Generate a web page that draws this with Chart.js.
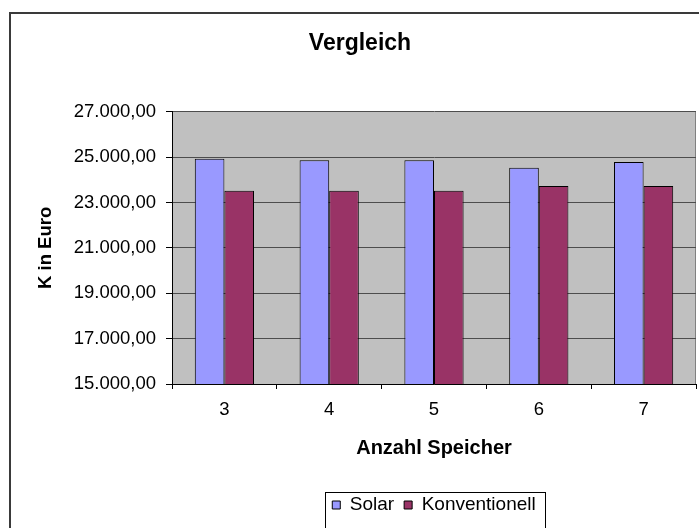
<!DOCTYPE html>
<html>
<head>
<meta charset="utf-8">
<title>Vergleich</title>
<script src="https://cdn.jsdelivr.net/npm/chart.js@4/dist/chart.umd.min.js"></script>
<style>
  html, body { margin: 0; padding: 0; background: #fff; overflow: hidden; }
  canvas { display: block; }
</style>
</head>
<body>
<canvas id="chart" width="699" height="528"></canvas>
<script>
// Kosten je Anzahl Speicher
const speicher = ['3', '4', '5', '6', '7'];
const solar = [24930, 24860, 24860, 24530, 24780];
const konventionell = [23520, 23520, 23520, 23730, 23730];

// y axis range
const yMin = 15000;
const yMax = 27000;
const yStep = 2000;

const FONT = "'Liberation Sans', Arial, sans-serif";

// 27000 -> "27.000,00"
function euro(v) {
  const parts = Number(v).toFixed(2).split('.');
  const int = parts[0].replace(/\B(?=(\d{3})+(?!\d))/g, '.');
  return int + ',' + parts[1];
}

// white page, outer frame and grey plot area
const background = {
  id: 'background',
  beforeDraw(chart) {
    const { ctx, chartArea: a } = chart;
    ctx.save();
    ctx.fillStyle = '#fff';
    ctx.fillRect(0, 0, chart.width, chart.height);
    ctx.strokeStyle = '#3a3a3a';
    ctx.lineWidth = 2;
    ctx.strokeRect(10, 13, chart.width + 20, chart.height + 20);
    ctx.fillStyle = '#c0c0c0';
    ctx.fillRect(a.left, a.top, a.right - a.left, a.bottom - a.top);
    ctx.strokeStyle = '#808080';
    ctx.lineWidth = 1;
    ctx.beginPath();
    ctx.moveTo(Math.round(a.right) - 0.5, a.top);
    ctx.lineTo(Math.round(a.right) - 0.5, a.bottom);
    ctx.stroke();
    ctx.restore();
  }
};

// box around the legend entries
const legendFrame = {
  id: 'legendFrame',
  afterDraw(chart) {
    const boxes = chart.legend && chart.legend.legendHitBoxes;
    if (!boxes || !boxes.length) return;
    const first = boxes[0];
    const last = boxes[boxes.length - 1];
    const x0 = Math.round(first.left - 7) + 0.5;
    const x1 = Math.round(last.left + last.width + 9) + 0.5;
    const y0 = Math.round(first.top - 4) + 0.5;
    const { ctx } = chart;
    ctx.save();
    ctx.strokeStyle = '#000';
    ctx.lineWidth = 1;
    ctx.strokeRect(x0, y0, x1 - x0, chart.height + 20 - y0);
    ctx.restore();
  }
};

new Chart(document.getElementById('chart'), {
  type: 'bar',
  data: {
    labels: speicher,
    datasets: [
      {
        label: 'Solar',
        data: solar,
        backgroundColor: '#9999ff',
        borderColor: '#000',
        borderWidth: 1
      },
      {
        label: 'Konventionell',
        data: konventionell,
        backgroundColor: '#993366',
        borderColor: '#000',
        borderWidth: 1
      }
    ]
  },
  options: {
    responsive: false,
    animation: false,
    devicePixelRatio: 1,
    layout: { padding: { left: 24, right: 3, top: 0, bottom: 3.5 } },
    datasets: {
      bar: { categoryPercentage: 0.565, barPercentage: 1 }
    },
    plugins: {
      tooltip: { enabled: false },
      title: {
        display: true,
        text: 'Vergleich',
        color: '#000',
        font: { family: FONT, size: 23, weight: 'bold' },
        padding: { top: 29.5, bottom: 54.6 }
      },
      legend: {
        position: 'bottom',
        fullSize: false,
        labels: {
          color: '#000',
          font: { family: FONT, size: 19 },
          boxWidth: 8,
          boxHeight: 8,
          padding: 10
        }
      }
    },
    scales: {
      x: {
        afterFit(scale) { scale.height = 101.5; },
        grid: {
          offset: true,
          drawOnChartArea: false,
          drawTicks: true,
          tickLength: 5,
          color: '#000'
        },
        border: { color: '#000', width: 1 },
        ticks: {
          color: '#000',
          padding: 10,
          font: { family: FONT, size: 18.5 }
        },
        title: {
          display: true,
          text: 'Anzahl Speicher',
          color: '#000',
          font: { family: FONT, size: 20, weight: 'bold' },
          padding: { top: 0, bottom: 25 }
        }
      },
      y: {
        min: yMin,
        max: yMax,
        afterFit(scale) { scale.width = 148; },
        grid: {
          color: '#4d4d4d',
          tickColor: '#000',
          tickLength: 6
        },
        border: { color: '#000', width: 1 },
        ticks: {
          stepSize: yStep,
          color: '#000',
          padding: 10,
          font: { family: FONT, size: 18.5 },
          callback: v => euro(v)
        },
        title: {
          display: true,
          text: 'K in Euro',
          color: '#000',
          font: { family: FONT, size: 18.5, weight: 'bold' },
          padding: { top: 10.4, bottom: 0 }
        }
      }
    }
  },
  plugins: [background, legendFrame]
});
</script>
</body>
</html>
